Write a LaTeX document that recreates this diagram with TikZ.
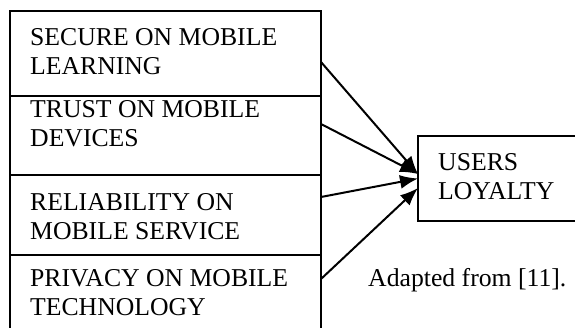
\documentclass[tikz,border=0pt]{standalone}
\usepackage{fontspec}
\setmainfont{Liberation Serif}
\usetikzlibrary{positioning,arrows.meta}
\begin{document}
\begin{tikzpicture}[x=1pt,y=-1pt,
  box/.style={draw,line width=2pt,outer sep=0pt,inner sep=0pt,minimum width=311pt},
  txt/.style={inner sep=0pt,align=left,font=\fontsize{25.7}{29.5}\selectfont},
  link/.style={line width=2pt,-{Latex[length=18pt,width=14pt]}}]
  \useasboundingbox (0,0) rectangle (575,328);
  \clip (0,0) rectangle (575,328);
  % the four factors, stacked
  \node[box,minimum height=85pt,anchor=north west] (sec) at (10,11) {};
  \node[box,minimum height=79pt,below=0pt of sec] (tru) {};
  \node[box,minimum height=80pt,below=0pt of tru] (rel) {};
  \node[box,minimum height=85pt,below=0pt of rel] (pri) {};
  \node[txt,below right=17pt and 20pt of sec.north west] (secT) {SECURE ON MOBILE\\LEARNING};
  \node[txt,below right=4pt and 20pt of tru.north west] (truT) {TRUST ON MOBILE\\DEVICES};
  \node[txt,below right=18pt and 20pt of rel.north west] (relT) {RELIABILITY ON\\MOBILE SERVICE};
  \node[txt,below right=14pt and 20pt of pri.north west] (priT) {PRIVACY ON MOBILE\\TECHNOLOGY};
  % outcome
  \node[box,minimum width=200pt,minimum height=85pt,anchor=north west] (usr) at (418,136) {};
  \node[txt,below right=17pt and 20pt of usr.north west] (usrT) {USERS\\LOYALTY};
  \node[txt,anchor=north west] (src) at (368,268) {Adapted from [11].};
  \draw[link] ([yshift=-8.5pt]sec.east) -- ([yshift=4.5pt]usr.west);
  \draw[link] ([yshift=11.5pt]tru.east) -- ([yshift=4.5pt]usr.west);
  \draw[link] ([yshift=18pt]rel.east) -- (usr.west);
  \draw[link] ([yshift=18.5pt]pri.east) -- ([yshift=-9.5pt]usr.west);
\end{tikzpicture}
\end{document}
